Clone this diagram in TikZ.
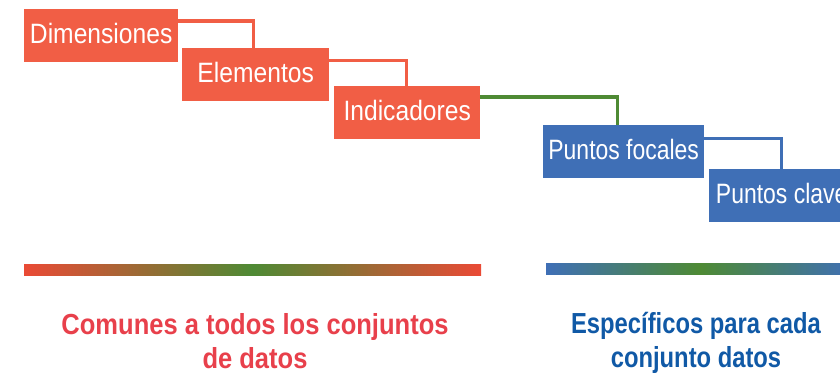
\documentclass[tikz,border=0pt]{standalone}
\usepackage{fontspec}
\setmainfont{Liberation Sans}[FakeStretch=0.88]
\newfontfamily\narrowfont{Liberation Sans}[FakeStretch=0.82]
\usetikzlibrary{calc}
\definecolor{boxred}{HTML}{F15E45}
\definecolor{boxblue}{HTML}{3F6FB6}
\definecolor{lgreen}{HTML}{4E8A34}
\definecolor{barred}{HTML}{EA4A35}
\definecolor{txtred}{HTML}{E8404B}
\definecolor{txtblue}{HTML}{1059A6}
\begin{document}
\begin{tikzpicture}[x=1pt,y=-1pt,
  box/.style={anchor=north west, minimum width=#1, minimum height=53pt, inner sep=0pt,
    text height=20pt, text depth=5pt, text=white, font=\fontsize{28}{30}\selectfont},
  redbox/.style={box=#1, fill=boxred},
  bluebox/.style={box=#1, fill=boxblue, font=\fontsize{28}{30}\narrowfont},
  conn/.style={line width=3.8pt},
  caption/.style={anchor=base, align=center, font=\fontsize{29}{34}\selectfont\bfseries},
  captionB/.style={anchor=base, align=center, font=\fontsize{29}{34}\narrowfont\bfseries}]
\useasboundingbox (0,0) rectangle (840,373);
\clip (0,0) rectangle (840,373);
% boxes
\node[redbox=154pt] (dim) at (24,9) {Dimensiones};
\node[redbox=147pt] (elem) at (182,48) {Elementos};
\node[redbox=146pt] (ind) at (334,86) {Indicadores};
\node[bluebox=161pt] (pf) at (543,125) {Puntos focales};
\node[bluebox=145pt] (pc) at (709,169) {Puntos clave};
% connectors
\draw[conn, boxred] ($(dim.north east)+(0,12)$) -| ($(elem.north west)+(71.5,0)$);
\draw[conn, boxred] ($(elem.north east)+(0,12.5)$) -| ($(ind.north west)+(72.5,0)$);
\draw[conn, lgreen] ($(ind.north east)+(0,11)$) -| ($(pf.north west)+(74.5,0)$);
\draw[line width=3pt, boxblue] ($(pf.north east)+(0,13.7)$) -| ($(pc.north west)+(72.5,0)$);
% gradient bars
\shade[left color=barred, right color=barred, middle color=lgreen] (24,264) rectangle (481,275.5);
\shade[left color=boxblue, right color=boxblue, middle color=lgreen] (546,263) rectangle (854,274.5);
% captions
\node[caption, text=txtred] (cl1) at (255,334) {Comunes a todos los conjuntos};
\node[caption, text=txtred] (cl2) at (255,368) {de datos};
\node[captionB, text=txtblue] (cr1) at (696,333) {Específicos para cada};
\node[captionB, text=txtblue] (cr2) at (696,367) {conjunto datos};
\end{tikzpicture}
\end{document}
